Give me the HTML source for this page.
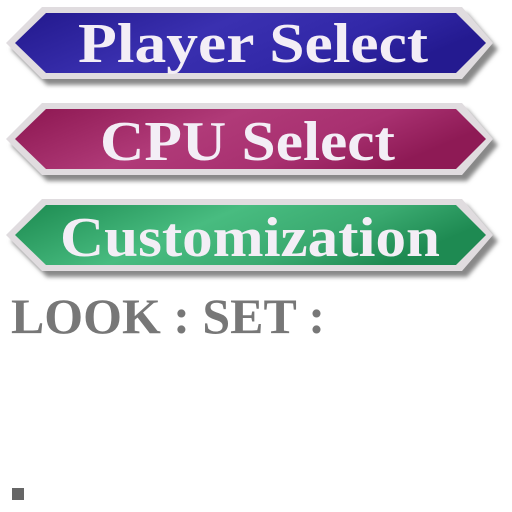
<!DOCTYPE html>
<html><head><style>
html,body{margin:0;padding:0;background:#fff;width:512px;height:512px;overflow:hidden}
</style></head><body>
<svg width="512" height="512" xmlns="http://www.w3.org/2000/svg">
<defs>
<filter id="b" x="-10%" y="-30%" width="120%" height="160%"><feGaussianBlur stdDeviation="2"/></filter>
<linearGradient id="g1" x1="0" y1="0" x2="1" y2="0.3">
<stop offset="0" stop-color="#22188c"/><stop offset="0.45" stop-color="#3a30b0"/><stop offset="0.75" stop-color="#3228a8"/><stop offset="1" stop-color="#241a90"/></linearGradient>
<linearGradient id="g2" x1="0" y1="0" x2="1" y2="0.3">
<stop offset="0" stop-color="#8c1650"/><stop offset="0.45" stop-color="#b03a78"/><stop offset="0.75" stop-color="#a83070"/><stop offset="1" stop-color="#8e1a55"/></linearGradient>
<linearGradient id="g3" x1="0" y1="0" x2="1" y2="0.3">
<stop offset="0" stop-color="#1c8a50"/><stop offset="0.45" stop-color="#48bc80"/><stop offset="0.75" stop-color="#3aaa70"/><stop offset="1" stop-color="#1e8a52"/></linearGradient>
</defs>
<g font-family="'Liberation Serif',serif" font-weight="bold" font-size="56" fill="#f3eef6">
<g transform="translate(0,43)">
<polygon points="47,-30 467,-30 498,6 467,42 47,42 11,6" fill="#888" filter="url(#b)"/>
<polygon points="42,-36 462,-36 493,0 462,36 42,36 6,0" fill="#e0dcdf"/>
<polygon points="46,-30 456,-30 486,0 456,30 46,30 15,0" fill="url(#g1)"/>
<text x="78" y="19" textLength="350" lengthAdjust="spacingAndGlyphs">Player Select</text></g>
<g transform="translate(0,139)">
<polygon points="47,-30 467,-30 498,6 467,42 47,42 11,6" fill="#888" filter="url(#b)"/>
<polygon points="42,-36 462,-36 493,0 462,36 42,36 6,0" fill="#e0dcdf"/>
<polygon points="46,-30 456,-30 486,0 456,30 46,30 15,0" fill="url(#g2)"/>
<text x="100" y="21" textLength="295" lengthAdjust="spacingAndGlyphs">CPU Select</text></g>
<g transform="translate(0,235)">
<polygon points="47,-30 467,-30 498,6 467,42 47,42 11,6" fill="#888" filter="url(#b)"/>
<polygon points="42,-36 462,-36 493,0 462,36 42,36 6,0" fill="#e0dcdf"/>
<polygon points="46,-30 456,-30 486,0 456,30 46,30 15,0" fill="url(#g3)"/>
<text x="60" y="21" textLength="380" lengthAdjust="spacingAndGlyphs">Customization</text></g>
</g>
<text x="11" y="333" font-family="'Liberation Serif',serif" font-weight="bold" font-size="50" fill="#777" textLength="314" lengthAdjust="spacingAndGlyphs">LOOK : SET :</text>
<rect x="12" y="488" width="12" height="12" fill="#666"/>
</svg>
</body></html>
